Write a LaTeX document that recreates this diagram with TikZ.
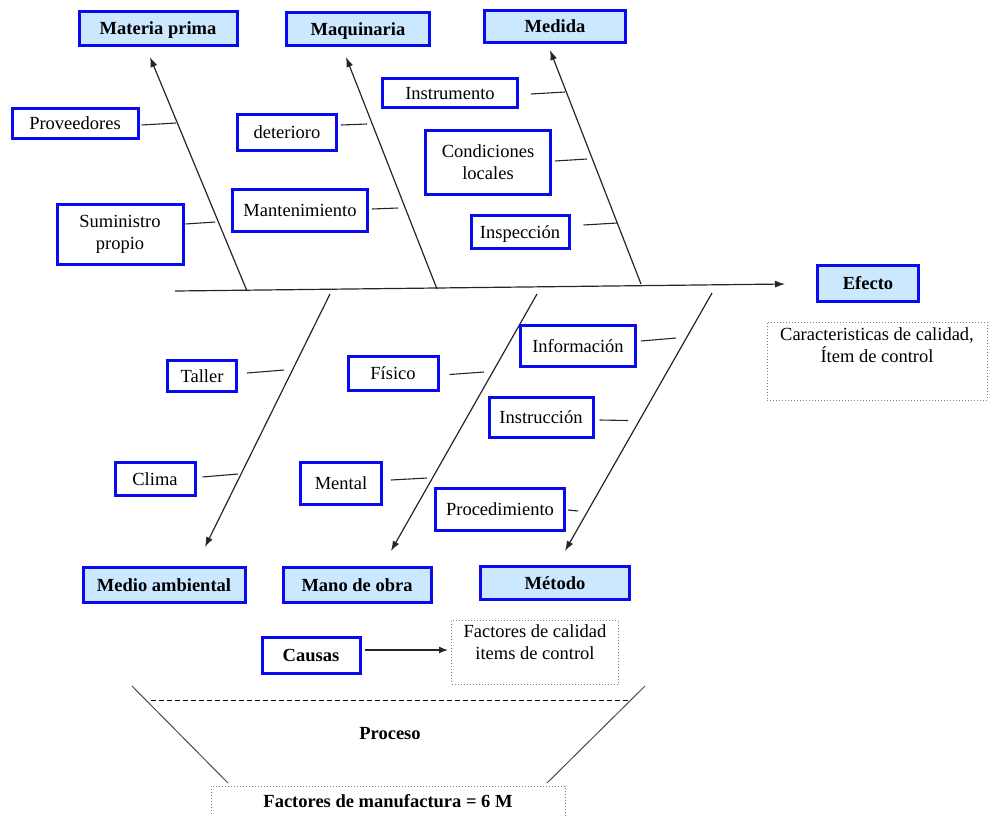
\documentclass[tikz,border=0pt]{standalone}
\usepackage{fontspec}
\setmainfont{Liberation Serif}
\usetikzlibrary{arrows.meta}
\definecolor{boxblue}{RGB}{10,10,240}
\definecolor{boxfill}{RGB}{204,232,255}
\begin{document}
\begin{tikzpicture}[x=1pt,y=-1pt,
  every node/.style={font=\fontsize{18.5}{22}\selectfont, inner sep=0pt},
  oneline/.style={text height=12.5pt, text depth=0pt},
  headbox/.style={draw=boxblue, fill=boxfill, line width=3pt, oneline, font=\fontsize{18.5}{22}\selectfont\bfseries},
  causebox/.style={draw=boxblue, fill=white, line width=3pt, align=center},
  notebox/.style={draw=gray, dotted, line width=1pt},
  bone/.style={draw=black!85, line width=1.2pt},
  bonearrow/.style={bone, -{Latex[length=10pt,width=7pt]}},
  twig/.style={draw=black!85, line width=1.1pt}]
\useasboundingbox (0,0) rectangle (988,815);

% ---- category heads ----
\node[headbox, minimum width=158, minimum height=34] (mp)  at (158,28)  {Materia prima};
\node[headbox, minimum width=143, minimum height=33] (maq) at (358,29)  {Maquinaria};
\node[headbox, minimum width=141, minimum height=32] (med) at (555,26)  {Medida};
\node[headbox, minimum width=101, minimum height=36] (efe) at (868,283) {Efecto};
\node[headbox, minimum width=162, minimum height=35] (amb) at (164,585) {Medio ambiental};
\node[headbox, minimum width=148, minimum height=35] (mo)  at (357,585) {Mano de obra};
\node[headbox, minimum width=149, minimum height=33] (met) at (555,583) {Método};

% ---- spine ----
\coordinate (s0) at (175,291);
\coordinate (s1) at (785,284);
\draw[bonearrow] (s0) -- (s1);

% ---- upper bones ----
\coordinate (bmp)  at (247,291);  \coordinate (tmp)  at (150,57);
\coordinate (bmaq) at (437,289);  \coordinate (tmaq) at (346,57);
\coordinate (bmed) at (641,284);  \coordinate (tmed) at (550,50);
\draw[bonearrow] (bmp) -- (tmp);
\draw[bonearrow] (bmaq) -- (tmaq);
\draw[bonearrow] (bmed) -- (tmed);

% ---- lower bones ----
\coordinate (bamb) at (330,294);  \coordinate (tamb) at (205,547);
\coordinate (bmo)  at (537,294);  \coordinate (tmo)  at (391,551);
\coordinate (bmet) at (712,293);  \coordinate (tmet) at (565,551);
\draw[bonearrow] (bamb) -- (tamb);
\draw[bonearrow] (bmo) -- (tmo);
\draw[bonearrow] (bmet) -- (tmet);

% ---- causes: Materia prima ----
\node[causebox, oneline, minimum width=126, minimum height=30] (prov) at (75,123) {Proveedores};
\node[causebox, minimum width=126, minimum height=60] (sum)  at (120,234) {Suministro\\propio};
\coordinate (jprov) at (176,123);
\coordinate (jsum)  at (215,222);
\draw[twig] ([xshift=2,yshift=-2]prov.east) -- (jprov);
\draw[twig] ([xshift=1,yshift=10]sum.east) -- (jsum);

% ---- causes: Maquinaria ----
\node[causebox, oneline, minimum width=99, minimum height=36]  (det)  at (287,132) {deterioro};
\node[causebox, oneline, minimum width=135, minimum height=42] (mant) at (300,210) {Mantenimiento};
\coordinate (jdet)  at (367,124);
\coordinate (jmant) at (398,208);
\draw[twig] ([xshift=3,yshift=7]det.east) -- (jdet);
\draw[twig] ([xshift=3,yshift=1]mant.east) -- (jmant);

% ---- causes: Medida ----
\node[causebox, oneline, minimum width=135, minimum height=29] (inst) at (450,93)  {Instrumento};
\node[causebox, minimum width=125, minimum height=64] (cond) at (488,162) {Condiciones\\locales};
\node[causebox, oneline, minimum width=98, minimum height=33]  (insp) at (520,232) {Inspección};
\coordinate (jinst) at (565,92);
\coordinate (jcond) at (587,159);
\coordinate (jinsp) at (617,223);
\draw[twig] ([xshift=12,yshift=-1]inst.east) -- (jinst);
\draw[twig] ([xshift=3,yshift=1]cond.east) -- (jcond);
\draw[twig] ([xshift=13,yshift=7]insp.east) -- (jinsp);

% ---- causes: Medio ambiental ----
\node[causebox, oneline, minimum width=69, minimum height=31] (tall)  at (202,376) {Taller};
\node[causebox, oneline, minimum width=80, minimum height=33] (clima) at (155,479) {Clima};
\coordinate (jtall)  at (284,370);
\coordinate (jclima) at (238,474);
\draw[twig] ([xshift=9,yshift=3]tall.east) -- (jtall);
\draw[twig] ([xshift=6,yshift=2]clima.east) -- (jclima);

% ---- causes: Mano de obra ----
\node[causebox, oneline, minimum width=90, minimum height=34] (fis)  at (393,373) {Físico};
\node[causebox, oneline, minimum width=81, minimum height=42] (ment) at (341,483) {Mental};
\coordinate (jfis)  at (484,372);
\coordinate (jment) at (427,478);
\draw[twig] ([xshift=10,yshift=-1.5]fis.east) -- (jfis);
\draw[twig] ([xshift=8,yshift=3]ment.east) -- (jment);

% ---- causes: Método ----
\node[causebox, oneline, minimum width=115, minimum height=41] (info) at (578,346) {Información};
\node[causebox, oneline, minimum width=104, minimum height=40] (ins2) at (541,417) {Instrucción};
\node[causebox, oneline, minimum width=129, minimum height=42] (proc) at (500,509) {Procedimiento};
\coordinate (jinfo) at (676,338);
\coordinate (jins2) at (628,420.5);
\coordinate (jproc) at (578,511);
\draw[twig] ([xshift=4,yshift=5]info.east) -- (jinfo);
\draw[twig] ([xshift=5,yshift=-3]ins2.east) -- (jins2);
\draw[twig] ([xshift=2,yshift=-1]proc.east) -- (jproc);

% ---- effect description ----
\node[notebox, minimum width=220, minimum height=78] (efd) at (877,361) {};
\node[anchor=north, align=center] (efdt) at ([yshift=-6]efd.north) {Caracteristicas de calidad,\\Ítem de control};

% ---- legend: causes -> quality factors ----
\node[headbox, fill=white, minimum width=98, minimum height=36] (caus) at (311,655) {Causas};
\node[notebox, minimum width=167, minimum height=64] (fq) at (535,652) {};
\node[anchor=north, align=center] (fqt) at ([yshift=-5]fq.north) {Factores de calidad\\items de control};
\draw[draw=black!85, line width=1.2pt, -{Latex[length=9pt,width=7pt]}] ([xshift=3,yshift=5]caus.east) -- ([xshift=-3,yshift=2]fq.west);

% ---- process funnel ----
\coordinate (fl0) at (132,686);  \coordinate (fl1) at (228,783);
\coordinate (fr0) at (645,686);  \coordinate (fr1) at (547,783);
\coordinate (dl) at (151,700);   \coordinate (dr) at (630,700);
\draw[draw=black!70, line width=1pt] (fl0) -- (fl1);
\draw[draw=black!70, line width=1pt] (fr0) -- (fr1);
\draw[draw=black, line width=1pt, dash pattern=on 5pt off 3pt] (dl) -- (dr);
\node[font=\fontsize{18.5}{22}\selectfont\bfseries] (proceso) at (390,734) {Proceso};
\node[notebox, oneline, minimum width=354, minimum height=30, font=\fontsize{18.5}{22}\selectfont\bfseries] (fm) at (388,801) {Factores de manufactura = 6 M};
\end{tikzpicture}
\end{document}
